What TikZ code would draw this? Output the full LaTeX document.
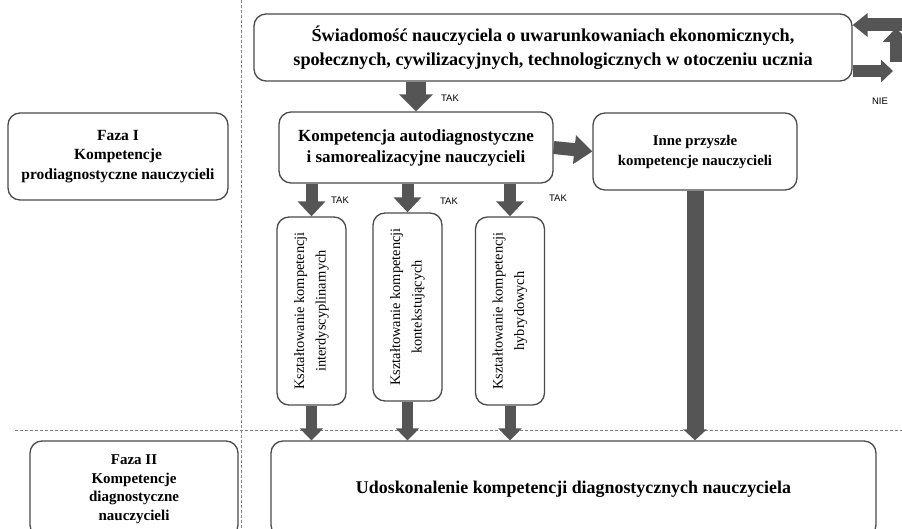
\documentclass[tikz,border=0pt]{standalone}
\usepackage{fontspec}
\setmainfont{Liberation Serif}
\newfontfamily\takfont{Liberation Sans}
\usetikzlibrary{arrows.meta}
\definecolor{arrowgray}{HTML}{555555}
\definecolor{boxgray}{HTML}{4A4A4A}
\tikzset{
  box/.style={draw=boxgray, line width=1.3pt, rounded corners=12pt, align=center,
    inner sep=2pt, font=\bfseries\fontsize{15.5}{19.5}\selectfont},
  vbox/.style={box, rotate=90, minimum width=188pt, minimum height=69pt,
    font=\fontsize{14.4}{21.5}\selectfont},
  fatarrow/.style n args={3}{draw=arrowgray, line width=#1,
    -{Triangle[width=#2, length=#3]}},
  tak/.style={font=\takfont\fontsize{9.5}{11}\selectfont, text=black}
}
\begin{document}
\begin{tikzpicture}[x=1pt, y=-1pt]
  \useasboundingbox (0,0) rectangle (902,529);
  \clip (0,0) rectangle (902,529);
  \draw[gray, line width=0.6pt, dash pattern=on 3pt off 2pt] (241,0) -- (241,529) (15,430) -- (902,430);
  \node[box, minimum width=598pt, minimum height=67pt, font=\bfseries\fontsize{18.2}{24}\selectfont] (swiad) at (553,47.5)
    {Świadomość nauczyciela o uwarunkowaniach ekonomicznych,\\ społecznych, cywilizacyjnych, technologicznych w otoczeniu ucznia};
  \node[box, minimum width=220pt, minimum height=87pt] (faza1) at (118,156.5) {Faza I\\ Kompetencje\\ prodiagnostyczne nauczycieli};
  \node[box, minimum width=274pt, minimum height=71pt, font=\bfseries\fontsize{17}{21}\selectfont] (auto) at (416,147.5)
    {Kompetencja autodiagnostyczne\\ i samorealizacyjne nauczycieli};
  \node[box, minimum width=204pt, minimum height=77pt, font=\bfseries\fontsize{14.8}{20}\selectfont] (inne) at (695,151.5)
    {Inne przyszłe\\ kompetencje nauczycieli};
  \node[vbox] (inter) at (311.5,311) {Kształtowanie kompetencji\\ interdyscyplinarnych};
  \node[vbox] (kontekst) at (407.5,307) {Kształtowanie kompetencji\\ kontekstujących};
  \node[vbox] (hybryd) at (510,311) {Kształtowanie kompetencji\\ hybrydowych};
  \node[box, minimum width=605pt, minimum height=96pt, font=\bfseries\fontsize{17.9}{22}\selectfont] (udosk) at (573.5,489)
    {Udoskonalenie kompetencji diagnostycznych nauczyciela};
  \node[box, minimum width=208pt, minimum height=96pt, font=\bfseries\fontsize{15}{18.5}\selectfont] (faza2) at (134,489)
    {Faza II\\ Kompetencje\\ diagnostyczne\\ nauczycieli};
  \draw[fatarrow={20pt}{33pt}{17pt}] (swiad.south -| auto) -- (auto.north);
  \draw[fatarrow={13pt}{28pt}{18pt}] (auto.east) -- (inne.west);
  \foreach \k in {inter,kontekst,hybryd}{
    \draw[fatarrow={12pt}{27pt}{15pt}] (auto.south -| \k.center) -- (\k.east);
    \draw[fatarrow={11pt}{23pt}{12pt}] (\k.west) -- (\k.west |- udosk.north);
  }
  \draw[fatarrow={17pt}{23pt}{11pt}] (inne.south) -- (inne.south |- udosk.north);
  \coordinate (nieR) at (893,71);
  \coordinate (nieU) at (896,28);
  \coordinate (nieL) at (905,25);
  \draw[fatarrow={12pt}{22pt}{12pt}] (swiad.east |- nieR) -- (nieR);
  \draw[fatarrow={13pt}{26pt}{14pt}] (nieU |- 0,62) -- (nieU);
  \draw[fatarrow={13pt}{23pt}{15pt}] (nieL) -- (swiad.east |- nieL);
  \node[tak] (tak0) at (450,98) {TAK};
  \node[tak] (tak1) at (340,200) {TAK};
  \node[tak] (tak2) at (449,201) {TAK};
  \node[tak] (tak3) at (558,198) {TAK};
  \node[tak] (nie) at (880,101) {NIE};
\end{tikzpicture}
\end{document}
